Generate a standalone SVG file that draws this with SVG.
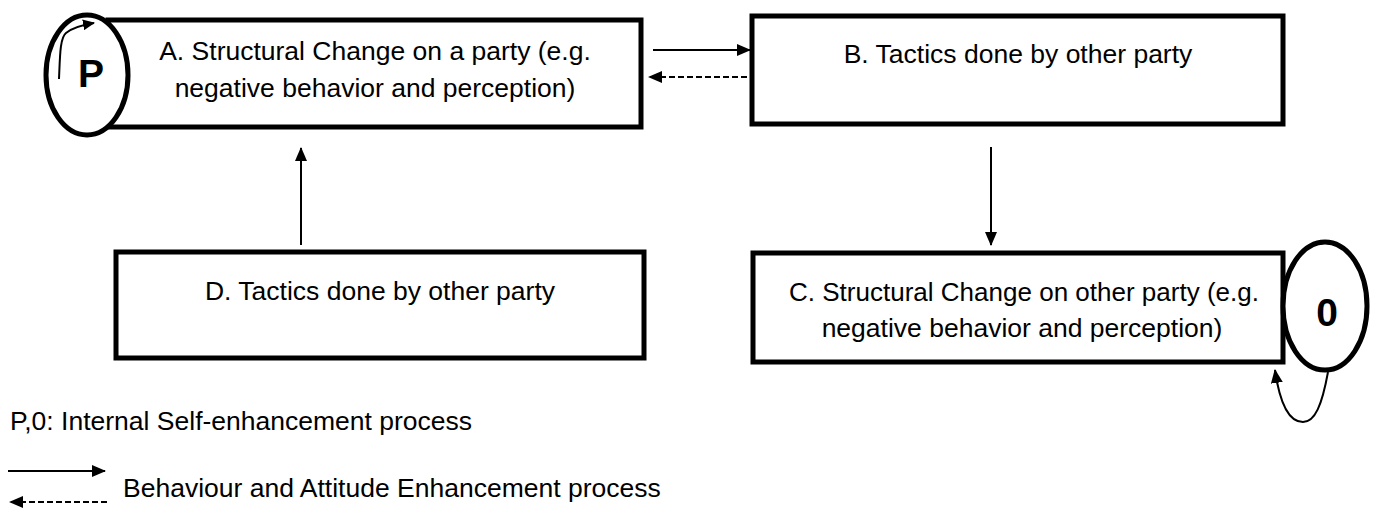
<svg xmlns="http://www.w3.org/2000/svg" width="1374" height="509" viewBox="0 0 1374 509">
  <style>
    .box { fill: #ffffff; stroke: #000000; stroke-width: 5; }
    .oval { fill: #ffffff; stroke: #000000; stroke-width: 5; }
    .lbl { font-family: "Liberation Sans", Arial, sans-serif; font-size: 26.5px; fill: #000000; }
    .mid { text-anchor: middle; }
    .big { font-family: "Liberation Sans", Arial, sans-serif; font-size: 39px; font-weight: bold; text-anchor: middle; fill: #000000; }
    .wire { fill: none; stroke: #000000; stroke-width: 2; }
    .dash { stroke-dasharray: 6 3; }
  </style>
  <defs>
    <marker id="head" viewBox="0 0 14 12" refX="13" refY="6" markerWidth="14" markerHeight="12" markerUnits="userSpaceOnUse" orient="auto">
      <path d="M0,0 L14,6 L0,12 Z" fill="#000000"/>
    </marker>
    <marker id="headSmall" viewBox="0 0 12 11" refX="11" refY="5.5" markerWidth="12" markerHeight="11" markerUnits="userSpaceOnUse" orient="auto">
      <path d="M0,0 L12,5.5 L0,11 Z" fill="#000000"/>
    </marker>
  </defs>

  <!-- A: structural change on the first party, with its P self-loop -->
  <g id="node-a">
    <rect class="box" x="108" y="20" width="533" height="107"/>
    <text class="lbl mid" x="375" y="60">A. Structural Change on a party (e.g.</text>
    <text class="lbl mid" x="375" y="97">negative behavior and perception)</text>
  </g>
  <g id="node-p">
    <ellipse class="oval" cx="87" cy="75" rx="41" ry="60"/>
    <text class="big" x="91" y="87">P</text>
    <path class="wire" d="M59,79 C60,55 60,38 66,33 C72,28 82,25 94,23" marker-end="url(#headSmall)"/>
  </g>

  <!-- B: tactics of the other party -->
  <g id="node-b">
    <rect class="box" x="752" y="16" width="531" height="108"/>
    <text class="lbl mid" x="1018" y="63">B. Tactics done by other party</text>
  </g>

  <!-- C: structural change on the other party, with its 0 self-loop -->
  <g id="node-c">
    <rect class="box" x="753" y="253" width="530" height="109"/>
    <text class="lbl mid" x="1024" y="301" textLength="470" lengthAdjust="spacingAndGlyphs">C. Structural Change on other party (e.g.</text>
    <text class="lbl mid" x="1022" y="337">negative behavior and perception)</text>
  </g>
  <g id="node-0">
    <ellipse class="oval" cx="1325" cy="306" rx="42" ry="64"/>
    <text class="big" x="1327" y="326">0</text>
  </g>

  <!-- D: tactics of the other party feeding back into A -->
  <g id="node-d">
    <rect class="box" x="116" y="252" width="528" height="106"/>
    <text class="lbl mid" x="380" y="300">D. Tactics done by other party</text>
  </g>

  <!-- connectors -->
  <g id="connectors">
    <line class="wire" x1="653" y1="50" x2="750" y2="50" marker-end="url(#head)"/>
    <line class="wire dash" x1="747" y1="77" x2="649" y2="77" marker-end="url(#head)"/>
    <line class="wire" x1="991" y1="147" x2="991" y2="245" marker-end="url(#head)"/>
    <line class="wire" x1="301" y1="245" x2="301" y2="148" marker-end="url(#head)"/>
    <path class="wire" d="M1328,372 C1322,405 1315,422 1303,422 C1290,422 1280,405 1275,370" marker-end="url(#head)"/>
  </g>

  <!-- legend -->
  <g id="legend">
    <text class="lbl" x="10" y="430">P,0: Internal Self-enhancement process</text>
    <line class="wire" x1="8" y1="471" x2="105" y2="471" marker-end="url(#head)"/>
    <line class="wire dash" x1="107" y1="502" x2="10" y2="502" marker-end="url(#head)"/>
    <text class="lbl" x="123" y="497">Behaviour and Attitude Enhancement process</text>
  </g>
</svg>
